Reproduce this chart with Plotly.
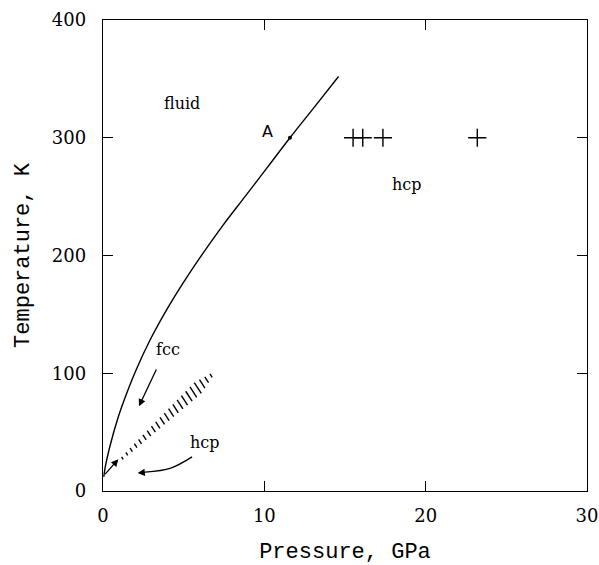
import numpy as np
import plotly.graph_objects as go

# Melting curve (pressure GPa, temperature K)
melt_P = [0.05, 0.12, 0.43, 0.95, 1.47, 2.09, 2.91, 3.95, 4.98, 6.0, 7.4, 8.8, 10.2, 11.59, 13.1, 14.6]
melt_T = [12, 19, 38, 63, 83, 104, 128, 154, 177, 198, 225, 250, 275, 300, 326, 352]

# Point A
A_P = [11.59]
A_T = [300]

# Crosses (hcp data points at 300 K)
cross_P = [15.5, 16.1, 17.35, 23.2]
cross_T = [300, 300, 300, 300]

# fcc-hcp transition band (hatched), end points
band_P = [1.2, 6.7]
band_T = [28, 98]
band_count = 21

# Region labels
label_text = ["fluid", "hcp", "fcc", "hcp"]
label_P = [4.9, 18.85, 4.0, 6.3]
label_T = [329, 260, 120, 41]

# axis ranges / ticks
x_range = [0, 30]
y_range = [0, 400]
x_ticks = [0, 10, 20, 30]
y_ticks = [0, 100, 200, 300, 400]

W, H = 599, 565
ML, MR, MT, MB = 103, 12, 20, 74
pxP = (W - ML - MR) / (x_range[1] - x_range[0])
pxT = (H - MT - MB) / (y_range[1] - y_range[0])

fig = go.Figure()

fig.add_trace(go.Scatter(x=melt_P, y=melt_T, mode="lines",
                         line=dict(color="black", width=1.4, shape="spline", smoothing=1.0),
                         hoverinfo="skip", showlegend=False))

fig.add_trace(go.Scatter(x=A_P, y=A_T, mode="markers",
                         marker=dict(color="black", size=4), showlegend=False))

fig.add_trace(go.Scatter(x=cross_P, y=cross_T, mode="markers",
                         marker=dict(symbol="cross-thin", size=13, line=dict(color="black", width=1.4)),
                         showlegend=False))

# hatch marks along the band
hx, hy = [], []
ang = np.deg2rad(57)
for i in range(band_count):
    f = i / (band_count - 1)
    cP = band_P[0] + f * (band_P[1] - band_P[0])
    cT = band_T[0] + f * (band_T[1] - band_T[0])
    if f < 0.85:
        L = 3 + 10 * f / 0.85
    else:
        L = 13 - (f - 0.85) / 0.15 * 9
    dP = 0.5 * L * np.cos(ang) / pxP
    dT = 0.5 * L * np.sin(ang) / pxT
    hx += [cP - dP, cP + dP, None]
    hy += [cT + dT, cT - dT, None]
fig.add_trace(go.Scatter(x=hx, y=hy, mode="lines", line=dict(color="black", width=1.4),
                         hoverinfo="skip", showlegend=False))

# curved hcp arrow shaft
fig.add_trace(go.Scatter(x=[5.52, 4.2, 2.6], y=[29, 19.5, 16], mode="lines",
                         line=dict(color="black", width=1.3, shape="spline"),
                         hoverinfo="skip", showlegend=False))

font_serif = "DejaVu Serif"
font_title = "Liberation Mono"
for t, p, T in zip(label_text, label_P, label_T):
    fig.add_annotation(x=p, y=T, text=t, showarrow=False,
                       font=dict(family=font_serif, size=16, color="black"))

fig.add_annotation(x=10.2, y=305, text="A", showarrow=False,
                   font=dict(family="DejaVu Sans", size=16, color="black"))

arrow_kw = dict(showarrow=True, arrowhead=2, arrowsize=1.1, arrowwidth=1.3,
                arrowcolor="black", axref="x", ayref="y", text="")
# fcc arrow
fig.add_annotation(x=2.23, y=72, ax=3.35, ay=104.5, **arrow_kw)
# hcp arrow head
fig.add_annotation(x=2.15, y=15.3, ax=2.7, ay=16, **arrow_kw)
# small arrow at origin
fig.add_annotation(x=0.95, y=27, ax=0.05, ay=13, **arrow_kw)

axis_common = dict(showgrid=False, zeroline=False, showline=True, linecolor="black",
                   linewidth=1.4, mirror="allticks", ticks="inside", ticklen=10,
                   tickwidth=1.3, tickcolor="black", automargin=False,
                   tickfont=dict(family=font_serif, size=18, color="black"))

fig.update_xaxes(range=x_range, tickvals=x_ticks, ticklabelstandoff=8,
                 title=dict(text="Pressure, GPa", standoff=20,
                            font=dict(family=font_title, size=22, color="black")),
                 **axis_common)
fig.update_yaxes(range=y_range, tickvals=y_ticks, ticklabelstandoff=12,
                 title=dict(text="Temperature, K", standoff=16,
                            font=dict(family=font_title, size=22, color="black")),
                 **axis_common)

fig.update_layout(width=W, height=H, margin=dict(l=ML, r=MR, t=MT, b=MB, autoexpand=False),
                  paper_bgcolor="white", plot_bgcolor="white", showlegend=False)

fig.write_html("out.html", config={"displayModeBar": False},
               post_script="document.body.style.margin='0';document.body.style.overflow='hidden';")
